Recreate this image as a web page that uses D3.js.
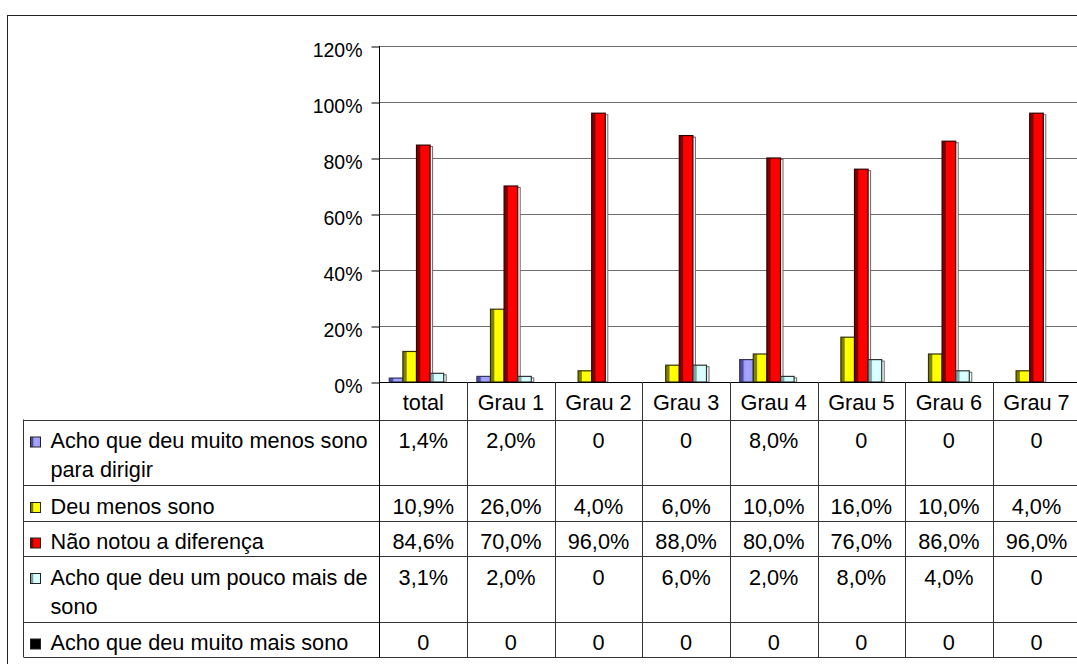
<!DOCTYPE html>
<html>
<head>
<meta charset="utf-8">
<script src="https://cdn.jsdelivr.net/npm/d3@7/dist/d3.min.js"></script>
<style>
  body { margin: 0; background: #fff; }
  svg { display: block; font-family: "Liberation Sans", Arial, sans-serif; }
</style>
</head>
<body>
<svg id="canvas" width="1077" height="664"></svg>
<script>
"use strict"

// Data (fractions)
let categories = ["total", "Grau 1", "Grau 2", "Grau 3", "Grau 4", "Grau 5", "Grau 6", "Grau 7"];
let seriesNames = [
    "Acho que deu muito menos sono\npara dirigir",
    "Deu menos sono",
    "Não notou a diferença",
    "Acho que deu um pouco mais de\nsono",
    "Acho que deu muito mais sono"
];
let muitoMenos = [0.014, 0.02, 0, 0, 0.08, 0, 0, 0];
let menos = [0.109, 0.26, 0.04, 0.06, 0.10, 0.16, 0.10, 0.04];
let semDiferenca = [0.846, 0.70, 0.96, 0.88, 0.80, 0.76, 0.86, 0.96];
let poucoMais = [0.031, 0.02, 0, 0.06, 0.02, 0.08, 0.04, 0];
let muitoMais = [0, 0, 0, 0, 0, 0, 0, 0];
let seriesValues = [muitoMenos, menos, semDiferenca, poucoMais, muitoMais];
let yTicks = [0, 0.2, 0.4, 0.6, 0.8, 1.0, 1.2];

// colours: [body, dark edge, outline]
let colors = [
    ["#9999ff", "#4c4c99", "#333366"],
    ["#ffff00", "#808000", "#333300"],
    ["#ff0000", "#800000", "#330000"],
    ["#ccffff", "#7fa3a3", "#333333"],
    ["#000000", "#000000", "#000000"]
];

let svg = d3.select("#canvas");
let font = "Liberation Sans, Arial, sans-serif";
let tableFont = "21.7px";

// outer chart border
svg.append("rect")
    .attr("x", 7.5).attr("y", 15.5)
    .attr("width", 1200).attr("height", 800)
    .attr("fill", "none")
    .attr("stroke", "#222");

// scales
let plotLeft = 379.5;
let x = d3.scaleBand().domain(categories).range([plotLeft, plotLeft + 8 * 87.6]);
let xs = d3.scaleBand().domain(d3.range(seriesNames.length))
    .range([0, x.bandwidth()]).paddingOuter(0.72);
let y = d3.scaleLinear().domain([0, 1.2]).range([382, 46]);

// gradients for the bevelled bar look
let defs = svg.append("defs");
colors.forEach(function (c, i) {
    let g = defs.append("linearGradient").attr("id", "grad" + i)
        .attr("x1", "0").attr("x2", "1").attr("y1", "0").attr("y2", "0");
    g.append("stop").attr("offset", "0").attr("stop-color", c[1]);
    g.append("stop").attr("offset", "0.24").attr("stop-color", c[1]);
    g.append("stop").attr("offset", "0.32").attr("stop-color", c[0]);
    g.append("stop").attr("offset", "0.55").attr("stop-color", d3.color(c[0]).brighter(0.25));
    g.append("stop").attr("offset", "1").attr("stop-color", c[0]);
});

// gridlines
svg.append("g")
    .selectAll("line")
    .data(yTicks.filter(d => d > 0))
    .join("line")
    .attr("x1", plotLeft).attr("x2", 1077)
    .attr("y1", d => Math.round(y(d)) + 0.5)
    .attr("y2", d => Math.round(y(d)) + 0.5)
    .attr("stroke", "#6e6e6e");

// y axis
let yAxis = svg.append("g")
    .attr("transform", "translate(" + plotLeft + ",0.5)")
    .call(d3.axisLeft(y).tickValues(yTicks).tickSize(8).tickPadding(9)
        .tickFormat(d3.format(".0%")));
yAxis.select(".domain").remove();
yAxis.selectAll(".tick line").attr("stroke", "#000");
yAxis.selectAll(".tick text")
    .attr("font-family", font)
    .attr("font-size", "19.5px")
    .attr("fill", "#000")
    .attr("dy", "0.5em");

// bars
seriesValues.forEach(function (vals, si) {
    let g = svg.append("g");
    let data = vals.map((v, ci) => ({ cat: categories[ci], v: v })).filter(d => d.v > 0);
    // shadow
    g.selectAll("rect.shadow")
        .data(data)
        .join("rect")
        .attr("class", "shadow")
        .attr("x", d => x(d.cat) + xs(si) + 2.5)
        .attr("y", d => y(d.v) + 1.5)
        .attr("width", xs.bandwidth())
        .attr("height", d => y(0) - y(d.v) - 1.5)
        .attr("fill", "#fff")
        .attr("stroke", "#666");
    g.selectAll("rect.bar")
        .data(data)
        .join("rect")
        .attr("class", "bar")
        .attr("x", d => x(d.cat) + xs(si))
        .attr("y", d => y(d.v))
        .attr("width", xs.bandwidth())
        .attr("height", d => y(0) - y(d.v))
        .attr("fill", "url(#grad" + si + ")")
        .attr("stroke", colors[si][2])
        .attr("stroke-width", 1.2);
});

// data table
let tableLeft = 23.5;
let lineH = 30;
let rowPad = 5.5;
let headerTop = 382;
let tableTop = 419.5;
let rowTops = [];
let acc = tableTop;
seriesNames.forEach(function (name) {
    rowTops.push(acc);
    acc += name.split("\n").length * lineH + rowPad;
});
let tableBottom = acc;
let lineColor = "#333";

// horizontal lines
svg.append("line")
    .attr("x1", plotLeft).attr("x2", 1077)
    .attr("y1", headerTop + 0.5).attr("y2", headerTop + 0.5)
    .attr("stroke", "#000");
svg.append("g").selectAll("line")
    .data(rowTops.concat([tableBottom]))
    .join("line")
    .attr("x1", tableLeft).attr("x2", 1077)
    .attr("y1", d => Math.round(d) + 0.5).attr("y2", d => Math.round(d) + 0.5)
    .attr("stroke", lineColor);

// vertical lines
svg.append("line")
    .attr("x1", tableLeft).attr("x2", tableLeft)
    .attr("y1", tableTop).attr("y2", tableBottom)
    .attr("stroke", lineColor);
svg.append("line")
    .attr("x1", plotLeft).attr("x2", plotLeft)
    .attr("y1", y(1.2)).attr("y2", tableBottom)
    .attr("stroke", "#000");
svg.append("g").selectAll("line")
    .data(categories)
    .join("line")
    .attr("x1", d => Math.round(x(d) + x.bandwidth()) + 0.5)
    .attr("x2", d => Math.round(x(d) + x.bandwidth()) + 0.5)
    .attr("y1", headerTop).attr("y2", tableBottom)
    .attr("stroke", lineColor);

// header labels
svg.append("g").selectAll("text")
    .data(categories)
    .join("text")
    .attr("x", d => x(d) + x.bandwidth() / 2)
    .attr("y", headerTop + 27.5)
    .attr("text-anchor", "middle")
    .attr("font-family", font)
    .attr("font-size", tableFont)
    .text(d => d);

// legend keys and series names
seriesNames.forEach(function (name, si) {
    let top = rowTops[si];
    svg.append("rect")
        .attr("x", 30.5).attr("y", top + 17.5)
        .attr("width", 10).attr("height", 10)
        .attr("fill", "url(#grad" + si + ")")
        .attr("stroke", "#222");
    let t = svg.append("text")
        .attr("font-family", font)
        .attr("font-size", tableFont)
        .attr("x", 50.5)
        .attr("y", top + 28.5);
    name.split("\n").forEach(function (line, li) {
        t.append("tspan")
            .attr("x", 50.5)
            .attr("dy", li === 0 ? 0 : 29)
            .text(line);
    });

    // values
    let fmt = v => v === 0 ? "0" : (v * 100).toFixed(1).replace(".", ",") + "%";
    svg.append("g").selectAll("text")
        .data(seriesValues[si])
        .join("text")
        .attr("x", (d, ci) => x(categories[ci]) + x.bandwidth() / 2)
        .attr("y", top + 28.5)
        .attr("text-anchor", "middle")
        .attr("font-family", font)
        .attr("font-size", tableFont)
        .text(d => fmt(d));
});
</script>
</body>
</html>
